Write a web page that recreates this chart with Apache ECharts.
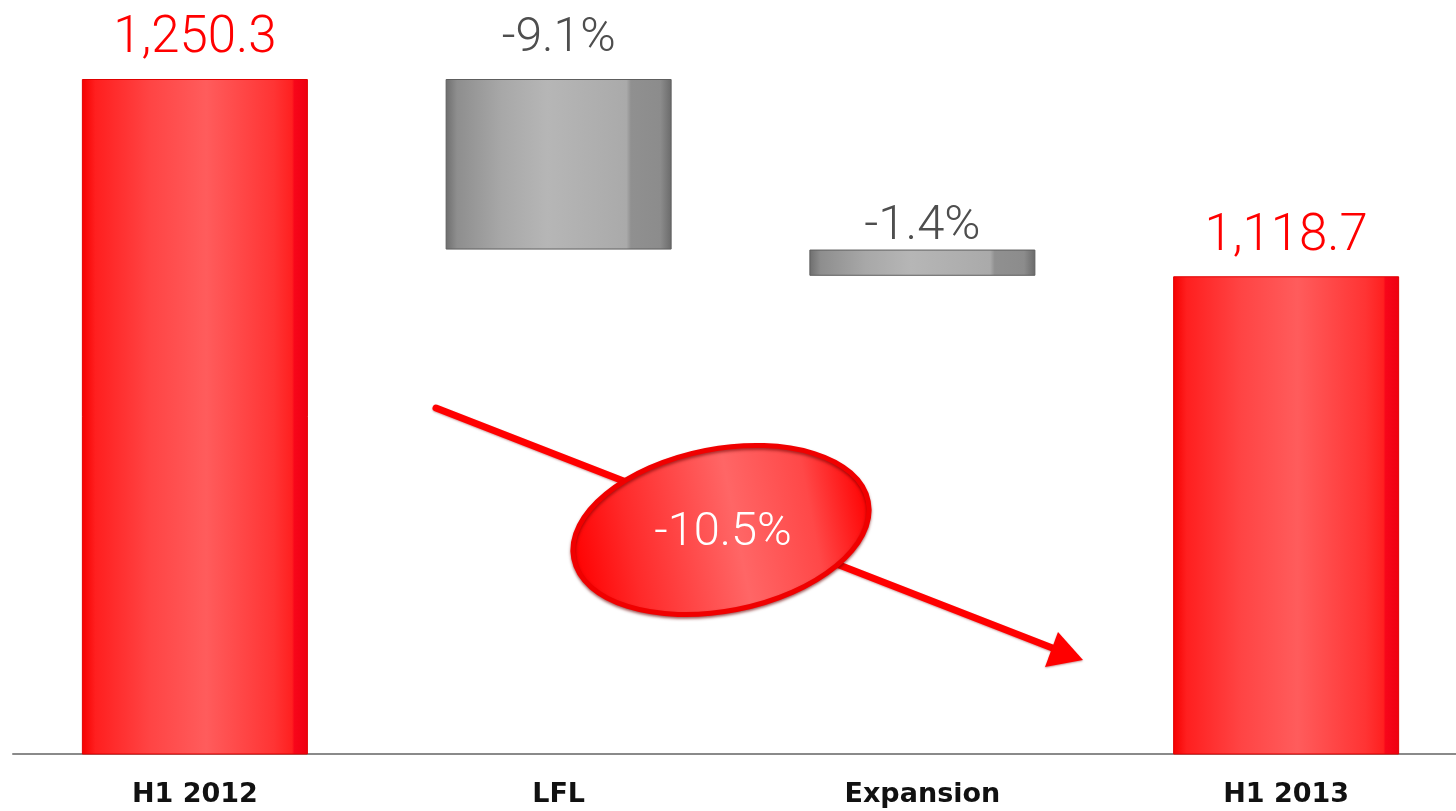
<!DOCTYPE html>
<html>
<head>
<meta charset="utf-8">
<script src="https://cdn.jsdelivr.net/npm/echarts@6/dist/echarts.min.js"></script>
<style>
  html, body { margin: 0; padding: 0; background: #fff; }
  #chart { width: 1456px; height: 811px; }
</style>
</head>
<body>
<div id="chart"></div>
<script>
// Sales bridge: H1 2012 -> like-for-like -> expansion -> H1 2013
const categories = ['H1 2012', 'LFL', 'Expansion', 'H1 2013'];
const startValue = 1250.3;
const endValue = 1118.7;
const stepPercents = [-9.1, -1.4];      // LFL, Expansion (share of H1 2012)

// Waterfall pieces derived from the stated percentages
const lflDelta = startValue * Math.abs(stepPercents[0]) / 100;
const expDelta = startValue * Math.abs(stepPercents[1]) / 100;
const lflLow = startValue - lflDelta;
const expLow = lflLow - expDelta;
const totalChange = (endValue / startValue - 1) * 100;

const baseValues  = ['-', lflLow, expLow, '-'];
const stepValues  = ['-', lflDelta, expDelta, '-'];
const totalValues = [startValue, '-', '-', endValue];

const fmt = v => v.toLocaleString('en-US', { minimumFractionDigits: 1, maximumFractionDigits: 1 });
const pct = v => v.toFixed(1) + '%';

const redFill = {
  type: 'linear', x: 0, y: 0, x2: 1, y2: 0,
  colorStops: [
    { offset: 0, color: '#f50000' },
    { offset: 0.06, color: '#ff1f1f' },
    { offset: 0.3, color: '#ff4444' },
    { offset: 0.55, color: '#ff5c5c' },
    { offset: 0.85, color: '#ff3434' },
    { offset: 0.93, color: '#ff2020' },
    { offset: 0.94, color: '#f8061a' },
    { offset: 1, color: '#ee0010' }
  ]
};
const greyFill = {
  type: 'linear', x: 0, y: 0, x2: 1, y2: 0,
  colorStops: [
    { offset: 0, color: '#6e6e6e' },
    { offset: 0.05, color: '#8e8e8e' },
    { offset: 0.25, color: '#a8a8a8' },
    { offset: 0.45, color: '#b6b6b6' },
    { offset: 0.8, color: '#aaaaaa' },
    { offset: 0.82, color: '#909090' },
    { offset: 0.95, color: '#8c8c8c' },
    { offset: 1, color: '#6a6a6a' }
  ]
};

// per-step label size and gap above its bar
const stepLabelStyle = [
  { fontSize: 48, distance: 16 },
  { fontSize: 49, distance: -2 }
];

const chart = echarts.init(document.getElementById('chart'));

chart.setOption({
  animation: false,
  backgroundColor: '#ffffff',
  grid: { left: 13, width: 1455, top: 4.5, bottom: 57, outerBoundsMode: 'none' },
  xAxis: {
    type: 'category',
    data: categories,
    axisTick: { show: false },
    axisLine: { lineStyle: { color: '#8a8a8a', width: 2 } },
    axisLabel: {
      margin: 27,
      color: '#111',
      fontSize: 27,
      fontWeight: 'bold',
      fontFamily: 'DejaVu Sans'
    }
  },
  yAxis: {
    type: 'value', min: 800, max: 1300,
    show: false, splitLine: { show: false }
  },
  series: [
    {
      type: 'bar', stack: 'bridge', barWidth: 226,
      data: baseValues,
      itemStyle: { color: 'rgba(0,0,0,0)' },
      silent: true
    },
    {
      type: 'bar', stack: 'bridge', barWidth: 226,
      data: stepValues.map((v, i) => v === '-' ? v : {
        value: v,
        label: stepLabelStyle[i - 1]
      }),
      itemStyle: { color: greyFill, borderColor: '#5e5e5e', borderWidth: 1 },
      label: {
        show: true, position: 'top',
        color: '#4e4e4e', fontFamily: 'Roboto', fontWeight: 300,
        formatter: p => pct(stepPercents[p.dataIndex - 1])
      }
    },
    {
      type: 'bar', stack: 'bridge', barWidth: 226,
      data: totalValues,
      itemStyle: { color: redFill, borderColor: '#e00000', borderWidth: 1 },
      label: {
        show: true, position: 'top', distance: 14,
        color: '#ff0000', fontSize: 51, fontFamily: 'Roboto', fontWeight: 300,
        formatter: p => fmt(p.value)
      }
    }
  ],
  graphic: [
    // trend arrow
    {
      type: 'line', silent: true, z: 10,
      shape: { x1: 436, y1: 408, x2: 1055, y2: 649 },
      style: { stroke: '#ff0000', lineWidth: 7, lineCap: 'round',
               shadowColor: 'rgba(120,0,0,0.35)', shadowBlur: 2, shadowOffsetY: 1 }
    },
    {
      type: 'polygon', silent: true, z: 10,
      shape: { points: [[1083, 660], [1045, 667], [1058, 632]] },
      style: { fill: '#ff0000', shadowColor: 'rgba(120,0,0,0.4)', shadowBlur: 2, shadowOffsetY: 1 }
    },
    // total change badge
    {
      type: 'ellipse', silent: true, z: 11,
      x: 721, y: 530, rotation: 11 * Math.PI / 180,
      shape: { cx: 0, cy: 0, rx: 150, ry: 81 },
      style: {
        fill: {
          type: 'linear', x: 0, y: 0, x2: 1, y2: 0,
          colorStops: [
            { offset: 0, color: '#ff0000' },
            { offset: 0.2, color: '#ff2a2a' },
            { offset: 0.55, color: '#ff6666' },
            { offset: 0.8, color: '#ff4848' },
            { offset: 1, color: '#ff0000' }
          ]
        },
        stroke: '#f00000', lineWidth: 5,
        shadowColor: 'rgba(110,0,0,0.55)', shadowBlur: 3, shadowOffsetY: 2
      }
    },
    {
      type: 'text', silent: true, z: 12,
      x: 723, y: 533,
      style: {
        text: pct(totalChange),
        fill: '#ffffff', fontSize: 47, fontFamily: 'Roboto', fontWeight: 300,
        align: 'center', verticalAlign: 'middle'
      }
    }
  ]
});
</script>
</body>
</html>
